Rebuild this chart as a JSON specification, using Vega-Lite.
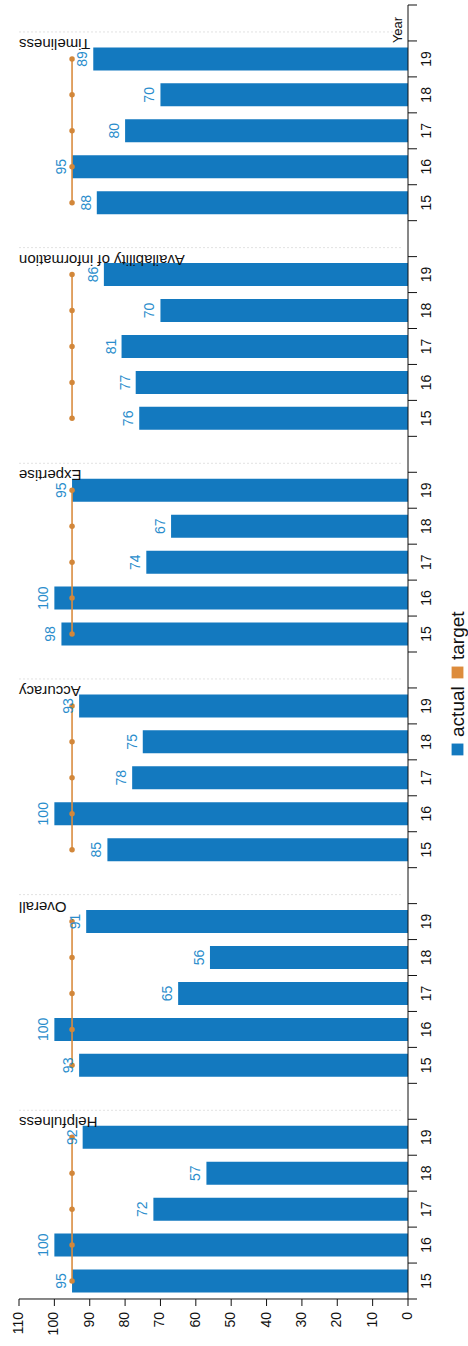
{
  "$schema": "https://vega.github.io/schema/vega-lite/v6.json",
  "width": 389,
  "height": 1294,
  "autosize": {"type": "none"},
  "padding": {"left": 19, "top": 5, "right": 60, "bottom": 47},
  "background": "white",
  "config": {"font": "Liberation Sans", "view": {"stroke": null}},
  "datasets": {
    "scores": [
      {"group": "Timeliness", "year": "19", "slot": "Timeliness 19", "actual": 89, "target": 95},
      {"group": "Timeliness", "year": "18", "slot": "Timeliness 18", "actual": 70, "target": 95},
      {"group": "Timeliness", "year": "17", "slot": "Timeliness 17", "actual": 80, "target": 95},
      {"group": "Timeliness", "year": "16", "slot": "Timeliness 16", "actual": 95, "target": 95},
      {"group": "Timeliness", "year": "15", "slot": "Timeliness 15", "actual": 88, "target": 95},
      {"group": "Availability of information", "year": "19", "slot": "Availability of information 19", "actual": 86, "target": 95},
      {"group": "Availability of information", "year": "18", "slot": "Availability of information 18", "actual": 70, "target": 95},
      {"group": "Availability of information", "year": "17", "slot": "Availability of information 17", "actual": 81, "target": 95},
      {"group": "Availability of information", "year": "16", "slot": "Availability of information 16", "actual": 77, "target": 95},
      {"group": "Availability of information", "year": "15", "slot": "Availability of information 15", "actual": 76, "target": 95},
      {"group": "Expertise", "year": "19", "slot": "Expertise 19", "actual": 95, "target": 95},
      {"group": "Expertise", "year": "18", "slot": "Expertise 18", "actual": 67, "target": 95},
      {"group": "Expertise", "year": "17", "slot": "Expertise 17", "actual": 74, "target": 95},
      {"group": "Expertise", "year": "16", "slot": "Expertise 16", "actual": 100, "target": 95},
      {"group": "Expertise", "year": "15", "slot": "Expertise 15", "actual": 98, "target": 95},
      {"group": "Accuracy", "year": "19", "slot": "Accuracy 19", "actual": 93, "target": 95},
      {"group": "Accuracy", "year": "18", "slot": "Accuracy 18", "actual": 75, "target": 95},
      {"group": "Accuracy", "year": "17", "slot": "Accuracy 17", "actual": 78, "target": 95},
      {"group": "Accuracy", "year": "16", "slot": "Accuracy 16", "actual": 100, "target": 95},
      {"group": "Accuracy", "year": "15", "slot": "Accuracy 15", "actual": 85, "target": 95},
      {"group": "Overall", "year": "19", "slot": "Overall 19", "actual": 91, "target": 95},
      {"group": "Overall", "year": "18", "slot": "Overall 18", "actual": 56, "target": 95},
      {"group": "Overall", "year": "17", "slot": "Overall 17", "actual": 65, "target": 95},
      {"group": "Overall", "year": "16", "slot": "Overall 16", "actual": 100, "target": 95},
      {"group": "Overall", "year": "15", "slot": "Overall 15", "actual": 93, "target": 95},
      {"group": "Helpfulness", "year": "19", "slot": "Helpfulness 19", "actual": 92, "target": 95},
      {"group": "Helpfulness", "year": "18", "slot": "Helpfulness 18", "actual": 57, "target": 95},
      {"group": "Helpfulness", "year": "17", "slot": "Helpfulness 17", "actual": 72, "target": 95},
      {"group": "Helpfulness", "year": "16", "slot": "Helpfulness 16", "actual": 100, "target": 95},
      {"group": "Helpfulness", "year": "15", "slot": "Helpfulness 15", "actual": 95, "target": 95}
    ],
    "separators": [
      {"slot": "Year"}, {"slot": "gap1"}, {"slot": "gap2"}, {"slot": "gap3"}, {"slot": "gap4"}, {"slot": "gap5"}
    ],
    "slots": [
      {"slot": "Year"}, {"slot": "Timeliness 19"}, {"slot": "Timeliness 18"}, {"slot": "Timeliness 17"}, {"slot": "Timeliness 16"}, {"slot": "Timeliness 15"}, {"slot": "gap1"},
      {"slot": "Availability of information 19"}, {"slot": "Availability of information 18"}, {"slot": "Availability of information 17"}, {"slot": "Availability of information 16"}, {"slot": "Availability of information 15"}, {"slot": "gap2"},
      {"slot": "Expertise 19"}, {"slot": "Expertise 18"}, {"slot": "Expertise 17"}, {"slot": "Expertise 16"}, {"slot": "Expertise 15"}, {"slot": "gap3"},
      {"slot": "Accuracy 19"}, {"slot": "Accuracy 18"}, {"slot": "Accuracy 17"}, {"slot": "Accuracy 16"}, {"slot": "Accuracy 15"}, {"slot": "gap4"},
      {"slot": "Overall 19"}, {"slot": "Overall 18"}, {"slot": "Overall 17"}, {"slot": "Overall 16"}, {"slot": "Overall 15"}, {"slot": "gap5"},
      {"slot": "Helpfulness 19"}, {"slot": "Helpfulness 18"}, {"slot": "Helpfulness 17"}, {"slot": "Helpfulness 16"}, {"slot": "Helpfulness 15"}
    ],
    "xticks": [{"v": 0}, {"v": 10}, {"v": 20}, {"v": 30}, {"v": 40}, {"v": 50}, {"v": 60}, {"v": 70}, {"v": 80}, {"v": 90}, {"v": 100}, {"v": 110}],
    "single": [{"label": "Year"}],
    "legendActual": [{"series": "actual"}],
    "legendTarget": [{"series": "target"}]
  },
  "layer": [
    {
      "data": {"name": "separators"},
      "mark": {"type": "rule", "color": "#e2e2e2", "strokeDash": [2, 2], "strokeWidth": 1},
      "encoding": {
        "x": {"datum": 110, "type": "quantitative", "scale": {"domain": [0, 110], "reverse": true, "nice": false}, "axis": null},
        "x2": {"datum": 2},
        "y": {"field": "slot", "type": "nominal", "bandPosition": 0.75, "axis": null, "sort": null,
          "scale": {"domain": ["Year","Timeliness 19","Timeliness 18","Timeliness 17","Timeliness 16","Timeliness 15","gap1","Availability of information 19","Availability of information 18","Availability of information 17","Availability of information 16","Availability of information 15","gap2","Expertise 19","Expertise 18","Expertise 17","Expertise 16","Expertise 15","gap3","Accuracy 19","Accuracy 18","Accuracy 17","Accuracy 16","Accuracy 15","gap4","Overall 19","Overall 18","Overall 17","Overall 16","Overall 15","gap5","Helpfulness 19","Helpfulness 18","Helpfulness 17","Helpfulness 16","Helpfulness 15"], "paddingInner": 0, "paddingOuter": 0}}
      }
    },
    {
      "data": {"name": "scores"},
      "mark": {"type": "bar", "height": {"band": 0.64}, "color": "#1379bf"},
      "encoding": {
        "x": {"field": "actual", "type": "quantitative", "scale": {"domain": [0, 110], "reverse": true, "nice": false}, "axis": null},
        "y": {"field": "slot", "type": "nominal", "sort": null, "axis": null,
          "scale": {"domain": ["Year","Timeliness 19","Timeliness 18","Timeliness 17","Timeliness 16","Timeliness 15","gap1","Availability of information 19","Availability of information 18","Availability of information 17","Availability of information 16","Availability of information 15","gap2","Expertise 19","Expertise 18","Expertise 17","Expertise 16","Expertise 15","gap3","Accuracy 19","Accuracy 18","Accuracy 17","Accuracy 16","Accuracy 15","gap4","Overall 19","Overall 18","Overall 17","Overall 16","Overall 15","gap5","Helpfulness 19","Helpfulness 18","Helpfulness 17","Helpfulness 16","Helpfulness 15"], "paddingInner": 0, "paddingOuter": 0}}
      }
    },
    {
      "data": {"name": "scores"},
      "mark": {"type": "line", "color": "#d98d40", "strokeWidth": 1.6},
      "encoding": {
        "x": {"field": "target", "type": "quantitative", "scale": {"domain": [0, 110], "reverse": true, "nice": false}, "axis": null},
        "y": {"field": "slot", "type": "nominal", "axis": null, "sort": null,
          "scale": {"domain": ["Year","Timeliness 19","Timeliness 18","Timeliness 17","Timeliness 16","Timeliness 15","gap1","Availability of information 19","Availability of information 18","Availability of information 17","Availability of information 16","Availability of information 15","gap2","Expertise 19","Expertise 18","Expertise 17","Expertise 16","Expertise 15","gap3","Accuracy 19","Accuracy 18","Accuracy 17","Accuracy 16","Accuracy 15","gap4","Overall 19","Overall 18","Overall 17","Overall 16","Overall 15","gap5","Helpfulness 19","Helpfulness 18","Helpfulness 17","Helpfulness 16","Helpfulness 15"], "paddingInner": 0, "paddingOuter": 0}},
        "detail": {"field": "group"}
      }
    },
    {
      "data": {"name": "scores"},
      "mark": {"type": "circle", "size": 30, "color": "#d2873a", "opacity": 1},
      "encoding": {
        "x": {"field": "target", "type": "quantitative", "scale": {"domain": [0, 110], "reverse": true, "nice": false}, "axis": null},
        "y": {"field": "slot", "type": "nominal", "axis": null, "sort": null,
          "scale": {"domain": ["Year","Timeliness 19","Timeliness 18","Timeliness 17","Timeliness 16","Timeliness 15","gap1","Availability of information 19","Availability of information 18","Availability of information 17","Availability of information 16","Availability of information 15","gap2","Expertise 19","Expertise 18","Expertise 17","Expertise 16","Expertise 15","gap3","Accuracy 19","Accuracy 18","Accuracy 17","Accuracy 16","Accuracy 15","gap4","Overall 19","Overall 18","Overall 17","Overall 16","Overall 15","gap5","Helpfulness 19","Helpfulness 18","Helpfulness 17","Helpfulness 16","Helpfulness 15"], "paddingInner": 0, "paddingOuter": 0}}
      }
    },
    {
      "data": {"name": "scores"},
      "mark": {"type": "text", "angle": 270, "align": "center", "baseline": "bottom", "dy": -3, "fontSize": 14, "color": "#2a8dcc"},
      "encoding": {
        "x": {"field": "actual", "type": "quantitative", "scale": {"domain": [0, 110], "reverse": true, "nice": false}, "axis": null},
        "y": {"field": "slot", "type": "nominal", "axis": null, "sort": null,
          "scale": {"domain": ["Year","Timeliness 19","Timeliness 18","Timeliness 17","Timeliness 16","Timeliness 15","gap1","Availability of information 19","Availability of information 18","Availability of information 17","Availability of information 16","Availability of information 15","gap2","Expertise 19","Expertise 18","Expertise 17","Expertise 16","Expertise 15","gap3","Accuracy 19","Accuracy 18","Accuracy 17","Accuracy 16","Accuracy 15","gap4","Overall 19","Overall 18","Overall 17","Overall 16","Overall 15","gap5","Helpfulness 19","Helpfulness 18","Helpfulness 17","Helpfulness 16","Helpfulness 15"], "paddingInner": 0, "paddingOuter": 0}},
        "text": {"field": "actual", "type": "quantitative"}
      }
    },
    {
      "data": {"name": "scores"},
      "transform": [{"filter": "datum.year == '19'"}],
      "mark": {"type": "text", "angle": 180, "align": "right", "baseline": "alphabetic", "dy": 2, "fontSize": 15, "color": "#111"},
      "encoding": {
        "x": {"datum": 110, "type": "quantitative", "scale": {"domain": [0, 110], "reverse": true, "nice": false}, "axis": null},
        "y": {"field": "slot", "type": "nominal", "bandPosition": 0, "axis": null, "sort": null,
          "scale": {"domain": ["Year","Timeliness 19","Timeliness 18","Timeliness 17","Timeliness 16","Timeliness 15","gap1","Availability of information 19","Availability of information 18","Availability of information 17","Availability of information 16","Availability of information 15","gap2","Expertise 19","Expertise 18","Expertise 17","Expertise 16","Expertise 15","gap3","Accuracy 19","Accuracy 18","Accuracy 17","Accuracy 16","Accuracy 15","gap4","Overall 19","Overall 18","Overall 17","Overall 16","Overall 15","gap5","Helpfulness 19","Helpfulness 18","Helpfulness 17","Helpfulness 16","Helpfulness 15"], "paddingInner": 0, "paddingOuter": 0}},
        "text": {"field": "group", "type": "nominal"}
      }
    },
    {
      "data": {"name": "single"},
      "mark": {"type": "text", "angle": 270, "align": "center", "baseline": "alphabetic", "dx": -7, "dy": -6, "fontSize": 13, "color": "#111"},
      "encoding": {
        "x": {"datum": 0, "type": "quantitative", "scale": {"domain": [0, 110], "reverse": true, "nice": false}, "axis": null},
        "y": {"datum": "Year", "type": "nominal", "axis": null,
          "scale": {"domain": ["Year","Timeliness 19","Timeliness 18","Timeliness 17","Timeliness 16","Timeliness 15","gap1","Availability of information 19","Availability of information 18","Availability of information 17","Availability of information 16","Availability of information 15","gap2","Expertise 19","Expertise 18","Expertise 17","Expertise 16","Expertise 15","gap3","Accuracy 19","Accuracy 18","Accuracy 17","Accuracy 16","Accuracy 15","gap4","Overall 19","Overall 18","Overall 17","Overall 16","Overall 15","gap5","Helpfulness 19","Helpfulness 18","Helpfulness 17","Helpfulness 16","Helpfulness 15"], "paddingInner": 0, "paddingOuter": 0}},
        "text": {"field": "label", "type": "nominal"}
      }
    },
    {
      "data": {"name": "single"},
      "mark": {"type": "rule", "color": "#111", "strokeWidth": 1, "yOffset": 17.97},
      "encoding": {
        "x": {"datum": 0, "type": "quantitative", "scale": {"domain": [0, 110], "reverse": true, "nice": false}, "axis": null},
        "x2": {"datum": 110},
        "y": {"datum": "Helpfulness 15", "type": "nominal", "axis": null,
          "scale": {"domain": ["Year","Timeliness 19","Timeliness 18","Timeliness 17","Timeliness 16","Timeliness 15","gap1","Availability of information 19","Availability of information 18","Availability of information 17","Availability of information 16","Availability of information 15","gap2","Expertise 19","Expertise 18","Expertise 17","Expertise 16","Expertise 15","gap3","Accuracy 19","Accuracy 18","Accuracy 17","Accuracy 16","Accuracy 15","gap4","Overall 19","Overall 18","Overall 17","Overall 16","Overall 15","gap5","Helpfulness 19","Helpfulness 18","Helpfulness 17","Helpfulness 16","Helpfulness 15"], "paddingInner": 0, "paddingOuter": 0}}
      }
    },
    {
      "data": {"name": "xticks"},
      "mark": {"type": "tick", "orient": "vertical", "size": 7, "thickness": 1, "opacity": 1, "color": "#111", "yOffset": 21.5},
      "encoding": {
        "x": {"field": "v", "type": "quantitative", "scale": {"domain": [0, 110], "reverse": true, "nice": false}, "axis": null},
        "y": {"datum": "Helpfulness 15", "type": "nominal", "axis": null,
          "scale": {"domain": ["Year","Timeliness 19","Timeliness 18","Timeliness 17","Timeliness 16","Timeliness 15","gap1","Availability of information 19","Availability of information 18","Availability of information 17","Availability of information 16","Availability of information 15","gap2","Expertise 19","Expertise 18","Expertise 17","Expertise 16","Expertise 15","gap3","Accuracy 19","Accuracy 18","Accuracy 17","Accuracy 16","Accuracy 15","gap4","Overall 19","Overall 18","Overall 17","Overall 16","Overall 15","gap5","Helpfulness 19","Helpfulness 18","Helpfulness 17","Helpfulness 16","Helpfulness 15"], "paddingInner": 0, "paddingOuter": 0}}
      }
    },
    {
      "data": {"name": "xticks"},
      "mark": {"type": "text", "angle": 270, "align": "right", "baseline": "middle", "fontSize": 14, "color": "#111", "yOffset": 31},
      "encoding": {
        "x": {"field": "v", "type": "quantitative", "scale": {"domain": [0, 110], "reverse": true, "nice": false}, "axis": null},
        "y": {"datum": "Helpfulness 15", "type": "nominal", "axis": null,
          "scale": {"domain": ["Year","Timeliness 19","Timeliness 18","Timeliness 17","Timeliness 16","Timeliness 15","gap1","Availability of information 19","Availability of information 18","Availability of information 17","Availability of information 16","Availability of information 15","gap2","Expertise 19","Expertise 18","Expertise 17","Expertise 16","Expertise 15","gap3","Accuracy 19","Accuracy 18","Accuracy 17","Accuracy 16","Accuracy 15","gap4","Overall 19","Overall 18","Overall 17","Overall 16","Overall 15","gap5","Helpfulness 19","Helpfulness 18","Helpfulness 17","Helpfulness 16","Helpfulness 15"], "paddingInner": 0, "paddingOuter": 0}},
        "text": {"field": "v", "type": "quantitative"}
      }
    },
    {
      "data": {"name": "single"},
      "mark": {"type": "rule", "color": "#111", "strokeWidth": 1, "yOffset": -17.97, "y2Offset": 17.97},
      "encoding": {
        "x": {"datum": 0, "type": "quantitative", "scale": {"domain": [0, 110], "reverse": true, "nice": false}, "axis": null},
        "y": {"datum": "Year", "type": "nominal", "axis": null,
          "scale": {"domain": ["Year","Timeliness 19","Timeliness 18","Timeliness 17","Timeliness 16","Timeliness 15","gap1","Availability of information 19","Availability of information 18","Availability of information 17","Availability of information 16","Availability of information 15","gap2","Expertise 19","Expertise 18","Expertise 17","Expertise 16","Expertise 15","gap3","Accuracy 19","Accuracy 18","Accuracy 17","Accuracy 16","Accuracy 15","gap4","Overall 19","Overall 18","Overall 17","Overall 16","Overall 15","gap5","Helpfulness 19","Helpfulness 18","Helpfulness 17","Helpfulness 16","Helpfulness 15"], "paddingInner": 0, "paddingOuter": 0}},
        "y2": {"datum": "Helpfulness 15"}
      }
    },
    {
      "data": {"name": "slots"},
      "mark": {"type": "tick", "orient": "horizontal", "size": 9, "thickness": 1, "opacity": 1, "color": "#111", "xOffset": 4.5},
      "encoding": {
        "x": {"datum": 0, "type": "quantitative", "scale": {"domain": [0, 110], "reverse": true, "nice": false}, "axis": null},
        "y": {"field": "slot", "type": "nominal", "bandPosition": 0, "axis": null, "sort": null,
          "scale": {"domain": ["Year","Timeliness 19","Timeliness 18","Timeliness 17","Timeliness 16","Timeliness 15","gap1","Availability of information 19","Availability of information 18","Availability of information 17","Availability of information 16","Availability of information 15","gap2","Expertise 19","Expertise 18","Expertise 17","Expertise 16","Expertise 15","gap3","Accuracy 19","Accuracy 18","Accuracy 17","Accuracy 16","Accuracy 15","gap4","Overall 19","Overall 18","Overall 17","Overall 16","Overall 15","gap5","Helpfulness 19","Helpfulness 18","Helpfulness 17","Helpfulness 16","Helpfulness 15"], "paddingInner": 0, "paddingOuter": 0}}
      }
    },
    {
      "data": {"name": "single"},
      "mark": {"type": "tick", "orient": "horizontal", "size": 9, "thickness": 1, "opacity": 1, "color": "#111", "xOffset": 4.5, "yOffset": 17.97},
      "encoding": {
        "x": {"datum": 0, "type": "quantitative", "scale": {"domain": [0, 110], "reverse": true, "nice": false}, "axis": null},
        "y": {"datum": "Helpfulness 15", "type": "nominal", "axis": null,
          "scale": {"domain": ["Year","Timeliness 19","Timeliness 18","Timeliness 17","Timeliness 16","Timeliness 15","gap1","Availability of information 19","Availability of information 18","Availability of information 17","Availability of information 16","Availability of information 15","gap2","Expertise 19","Expertise 18","Expertise 17","Expertise 16","Expertise 15","gap3","Accuracy 19","Accuracy 18","Accuracy 17","Accuracy 16","Accuracy 15","gap4","Overall 19","Overall 18","Overall 17","Overall 16","Overall 15","gap5","Helpfulness 19","Helpfulness 18","Helpfulness 17","Helpfulness 16","Helpfulness 15"], "paddingInner": 0, "paddingOuter": 0}}
      }
    },
    {
      "data": {"name": "scores"},
      "mark": {"type": "text", "angle": 270, "align": "center", "baseline": "top", "fontSize": 14, "color": "#111", "xOffset": 12},
      "encoding": {
        "x": {"datum": 0, "type": "quantitative", "scale": {"domain": [0, 110], "reverse": true, "nice": false}, "axis": null},
        "y": {"field": "slot", "type": "nominal", "axis": null, "sort": null,
          "scale": {"domain": ["Year","Timeliness 19","Timeliness 18","Timeliness 17","Timeliness 16","Timeliness 15","gap1","Availability of information 19","Availability of information 18","Availability of information 17","Availability of information 16","Availability of information 15","gap2","Expertise 19","Expertise 18","Expertise 17","Expertise 16","Expertise 15","gap3","Accuracy 19","Accuracy 18","Accuracy 17","Accuracy 16","Accuracy 15","gap4","Overall 19","Overall 18","Overall 17","Overall 16","Overall 15","gap5","Helpfulness 19","Helpfulness 18","Helpfulness 17","Helpfulness 16","Helpfulness 15"], "paddingInner": 0, "paddingOuter": 0}},
        "text": {"field": "year", "type": "nominal"}
      }
    },
    {
      "data": {"name": "legendActual"},
      "mark": {"type": "square", "size": 140, "filled": true, "opacity": 1, "color": "#1379bf", "yOffset": 7.6},
      "encoding": {
        "x": {"datum": -14, "type": "quantitative", "scale": {"domain": [0, 110], "reverse": true, "nice": false}, "axis": null},
        "y": {"datum": "Accuracy 18", "type": "nominal", "axis": null,
          "scale": {"domain": ["Year","Timeliness 19","Timeliness 18","Timeliness 17","Timeliness 16","Timeliness 15","gap1","Availability of information 19","Availability of information 18","Availability of information 17","Availability of information 16","Availability of information 15","gap2","Expertise 19","Expertise 18","Expertise 17","Expertise 16","Expertise 15","gap3","Accuracy 19","Accuracy 18","Accuracy 17","Accuracy 16","Accuracy 15","gap4","Overall 19","Overall 18","Overall 17","Overall 16","Overall 15","gap5","Helpfulness 19","Helpfulness 18","Helpfulness 17","Helpfulness 16","Helpfulness 15"], "paddingInner": 0, "paddingOuter": 0}}
      }
    },
    {
      "data": {"name": "legendActual"},
      "mark": {"type": "text", "angle": 270, "align": "left", "baseline": "middle", "fontSize": 19, "color": "#111", "yOffset": -4.9},
      "encoding": {
        "x": {"datum": -14, "type": "quantitative", "scale": {"domain": [0, 110], "reverse": true, "nice": false}, "axis": null},
        "y": {"datum": "Accuracy 18", "type": "nominal", "axis": null,
          "scale": {"domain": ["Year","Timeliness 19","Timeliness 18","Timeliness 17","Timeliness 16","Timeliness 15","gap1","Availability of information 19","Availability of information 18","Availability of information 17","Availability of information 16","Availability of information 15","gap2","Expertise 19","Expertise 18","Expertise 17","Expertise 16","Expertise 15","gap3","Accuracy 19","Accuracy 18","Accuracy 17","Accuracy 16","Accuracy 15","gap4","Overall 19","Overall 18","Overall 17","Overall 16","Overall 15","gap5","Helpfulness 19","Helpfulness 18","Helpfulness 17","Helpfulness 16","Helpfulness 15"], "paddingInner": 0, "paddingOuter": 0}},
        "text": {"field": "series", "type": "nominal"}
      }
    },
    {
      "data": {"name": "legendTarget"},
      "mark": {"type": "square", "size": 140, "filled": true, "opacity": 1, "color": "#dd8c3c", "yOffset": 2.5},
      "encoding": {
        "x": {"datum": -14, "type": "quantitative", "scale": {"domain": [0, 110], "reverse": true, "nice": false}, "axis": null},
        "y": {"datum": "gap3", "type": "nominal", "axis": null,
          "scale": {"domain": ["Year","Timeliness 19","Timeliness 18","Timeliness 17","Timeliness 16","Timeliness 15","gap1","Availability of information 19","Availability of information 18","Availability of information 17","Availability of information 16","Availability of information 15","gap2","Expertise 19","Expertise 18","Expertise 17","Expertise 16","Expertise 15","gap3","Accuracy 19","Accuracy 18","Accuracy 17","Accuracy 16","Accuracy 15","gap4","Overall 19","Overall 18","Overall 17","Overall 16","Overall 15","gap5","Helpfulness 19","Helpfulness 18","Helpfulness 17","Helpfulness 16","Helpfulness 15"], "paddingInner": 0, "paddingOuter": 0}}
      }
    },
    {
      "data": {"name": "legendTarget"},
      "mark": {"type": "text", "angle": 270, "align": "left", "baseline": "middle", "fontSize": 19, "color": "#111", "yOffset": -10},
      "encoding": {
        "x": {"datum": -14, "type": "quantitative", "scale": {"domain": [0, 110], "reverse": true, "nice": false}, "axis": null},
        "y": {"datum": "gap3", "type": "nominal", "axis": null,
          "scale": {"domain": ["Year","Timeliness 19","Timeliness 18","Timeliness 17","Timeliness 16","Timeliness 15","gap1","Availability of information 19","Availability of information 18","Availability of information 17","Availability of information 16","Availability of information 15","gap2","Expertise 19","Expertise 18","Expertise 17","Expertise 16","Expertise 15","gap3","Accuracy 19","Accuracy 18","Accuracy 17","Accuracy 16","Accuracy 15","gap4","Overall 19","Overall 18","Overall 17","Overall 16","Overall 15","gap5","Helpfulness 19","Helpfulness 18","Helpfulness 17","Helpfulness 16","Helpfulness 15"], "paddingInner": 0, "paddingOuter": 0}},
        "text": {"field": "series", "type": "nominal"}
      }
    }
  ]
}
